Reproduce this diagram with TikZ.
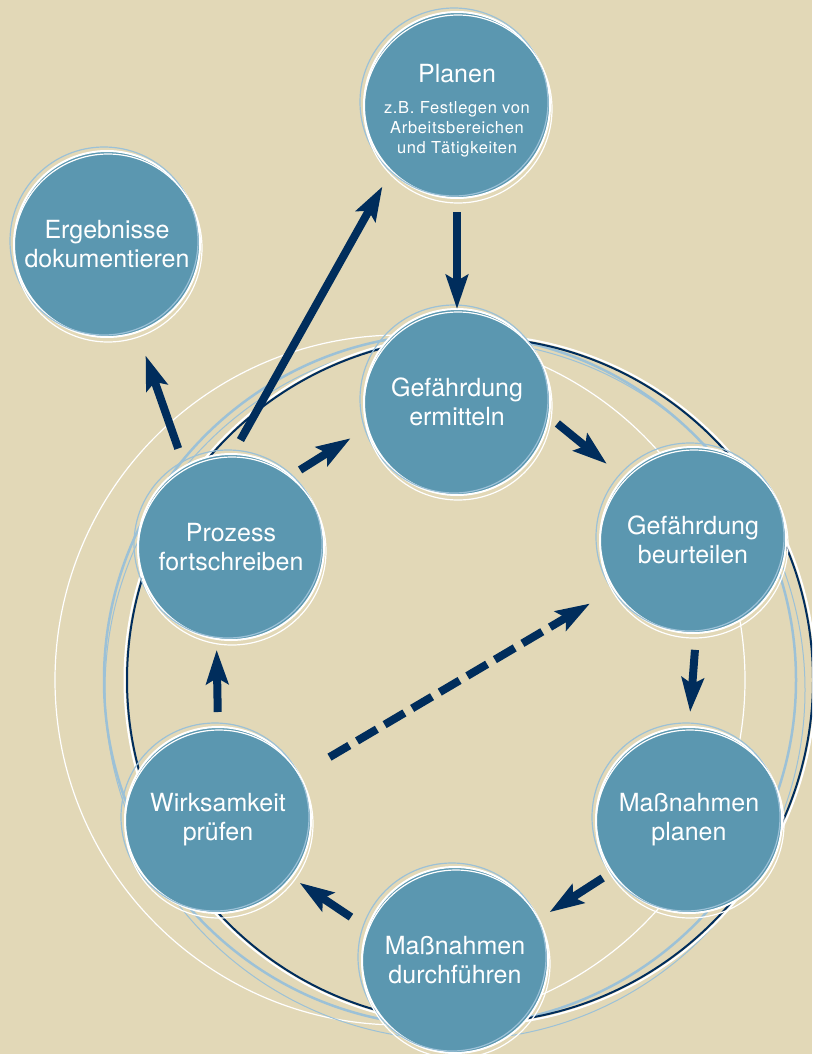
\documentclass[tikz,border=0pt]{standalone}
\usepackage{fontspec}
\setmainfont{TeX Gyre Heros}
\usetikzlibrary{arrows.meta}
\definecolor{sand}{HTML}{E2D8B7}
\definecolor{disc}{HTML}{5B97B0}
\definecolor{navy}{HTML}{002D5C}
\definecolor{pale}{HTML}{9CC1D7}
\tikzset{
  stage/.style={circle, fill=disc, draw=white, line width=2pt, minimum size=186pt,
    inner sep=0pt, outer sep=0pt, text=white, align=center,
    font=\fontsize{25}{29}\selectfont},
  flow/.style={navy, line width=8pt, -{Stealth[length=34pt,width=22pt,inset=6pt]}},
}
\begin{document}
\begin{tikzpicture}[x=1pt,y=-1pt]
\useasboundingbox (0,0) rectangle (812,1054);
\clip (0,0) rectangle (812,1054);
\fill[sand] (0,0) rectangle (812,1054);
\draw[white, line width=1.2pt] (400,680) circle[radius=345pt];
\draw[pale, line width=1pt] (455,690) circle[radius=350pt];
\draw[pale, line width=2.5pt] (450,680) circle[radius=346pt];
\draw[white, line width=2pt] (470,680) circle[radius=345.5pt];
\draw[navy, line width=2pt] (470,680) circle[radius=343pt];
\node[stage, font=\fontsize{16.5}{20}\selectfont\addfontfeature{LetterSpace=4}] (pl) at (457,105)
  {\rule{0pt}{30pt}{\fontsize{25}{29}\selectfont\addfontfeature{LetterSpace=0}Planen}\\[11pt]z.B. Festlegen von\\Arbeitsbereichen\\und Tätigkeiten};
\node[stage] (eg) at (107,244) {Ergebnisse\\dokumentieren};
\node[stage] (ge) at (457,402) {Gefährdung\\ermitteln};
\node[stage] (gb) at (693,540) {Gefährdung\\beurteilen};
\node[stage] (mp) at (689,820) {Maßnahmen\\planen};
\node[stage] (md) at (455,960) {Maßnahmen\\durchführen};
\node[stage] (wp) at (218,820) {Wirksamkeit\\prüfen};
\node[stage] (pf) at (231,547) {Prozess\\fortschreiben};
\foreach \n in {pl,eg,ge,gb,mp,md,wp,pf} {
  \draw[pale, line width=1.2pt] ([shift={(-3,-3)}]\n.center) circle[radius=94pt];
  \draw[white, line width=1.2pt] ([shift={(1,4)}]\n.center) circle[radius=94pt];
}
\draw[flow, shorten <=14pt] (pl.-90) -- (ge.90);
\draw[flow, shorten <=16pt, shorten >=18pt] (pf.89) -- (pl.225);
\draw[flow, shorten <=19pt, shorten >=25pt] (pf.120) -- (eg.-71);
\draw[flow, shorten <=11pt, shorten >=20pt] (pf.50) -- (ge.196);
\draw[flow, shorten <=11pt, shorten >=22pt] (ge.-9) -- (gb.138);
\draw[flow, shorten <=17pt, shorten >=15pt] (gb.-88) -- (mp.90);
\draw[flow, shorten <=11pt, shorten >=13pt] (mp.-146) -- (md.26);
\draw[flow, shorten <=20pt, shorten >=10pt] (md.160) -- (wp.-38);
\draw[flow, shorten <=15pt, shorten >=11pt] (wp.90) -- (pf.-99);
\draw[flow, dash pattern=on 23pt off 9pt, shorten <=35pt, shorten >=28pt] (wp.29) -- (gb.-148);
\end{tikzpicture}
\end{document}
